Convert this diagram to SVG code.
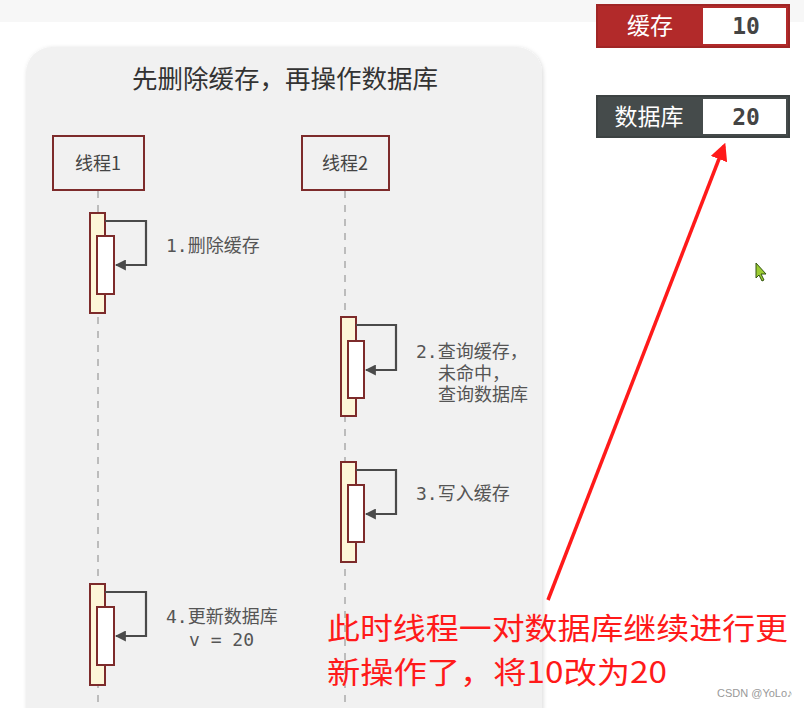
<svg xmlns="http://www.w3.org/2000/svg" width="804" height="708" viewBox="0 0 804 708">
<defs>
<style>
.cjk{font-family:"Noto Sans CJK SC","Noto Sans",sans-serif}
.lbl{font-family:"DejaVu Sans Mono","Noto Sans CJK SC",monospace;font-size:18px;fill:#555}
.actor rect{fill:#f1f1f1;stroke:#7d2b2b;stroke-width:2}
.actor text{font-family:"Noto Sans CJK SC",sans-serif;font-size:18px;fill:#444;text-anchor:middle}
.life{stroke:#aaa;stroke-width:1.5;stroke-dasharray:7 7;fill:none}
.outer{fill:#fdf6d8;stroke:#7d2b2b;stroke-width:2}
.inner{fill:#ffffff;stroke:#7d2b2b;stroke-width:2}
.msg{fill:none;stroke:#4a4a4a;stroke-width:2.2;marker-end:url(#ah)}
.note{font-family:"Noto Sans CJK SC","Noto Sans",sans-serif;font-size:30px;fill:#ff1a1a}
</style>
<marker id="ah" viewBox="0 0 10 10" refX="9" refY="5" markerWidth="5" markerHeight="5" orient="auto" markerUnits="strokeWidth">
<path d="M0,0 L10,5 L0,10 z" fill="#4a4a4a"/>
</marker>
<marker id="rah" viewBox="0 0 10 10" refX="8" refY="5" markerWidth="5" markerHeight="5" orient="auto" markerUnits="strokeWidth">
<path d="M0,0 L10,5 L0,10 z" fill="#ff1a1a"/>
</marker>
<filter id="sh" x="-5%" y="-5%" width="110%" height="110%">
<feDropShadow dx="1" dy="1" stdDeviation="2" flood-color="#000" flood-opacity="0.15"/>
</filter>
</defs>
<rect x="0" y="0" width="804" height="708" fill="#ffffff"/>
<rect x="0" y="0" width="804" height="22" fill="#f7f7f7"/>
<rect id="panel" x="26" y="47" width="516" height="700" rx="26" fill="#f1f1f1" filter="url(#sh)"/>
<text x="285" y="88" class="cjk" font-size="25.5" fill="#333" text-anchor="middle">先删除缓存，再操作数据库</text>

<g id="cache">
<rect x="597" y="5" width="192" height="42" fill="#b22a2a" stroke="#a02525" stroke-width="2"/>
<rect x="703" y="8" width="83" height="36" fill="#ffffff"/>
<text x="650" y="34" class="cjk" font-size="23" fill="#fff" text-anchor="middle">缓存</text>
<text x="746" y="34" font-family="DejaVu Sans Mono,monospace" font-weight="bold" font-size="23" fill="#444" text-anchor="middle">10</text>
</g>
<g id="db">
<rect x="597" y="96" width="192" height="41" fill="#454b4b" stroke="#3c4242" stroke-width="2"/>
<rect x="703" y="99" width="83" height="35" fill="#ffffff"/>
<text x="649" y="125" class="cjk" font-size="23" fill="#fff" text-anchor="middle">数据库</text>
<text x="746" y="125" font-family="DejaVu Sans Mono,monospace" font-weight="bold" font-size="23" fill="#444" text-anchor="middle">20</text>
</g>

<g id="lifelines">
<line class="life" x1="98" y1="191" x2="98" y2="708"/>
<line class="life" x1="345" y1="191" x2="345" y2="708"/>
</g>

<g id="thread1" class="actor">
<rect x="53" y="136" width="91" height="54"/>
<text x="98" y="170">线程1</text>
</g>
<g id="thread2" class="actor">
<rect x="302" y="136" width="87" height="54"/>
<text x="345" y="170">线程2</text>
</g>

<g id="act1">
<rect class="outer" x="90" y="213" width="15" height="100"/>
<rect class="inner" x="97" y="236" width="17" height="58"/>
</g>
<g id="act2">
<rect class="outer" x="341" y="317" width="15" height="99"/>
<rect class="inner" x="348" y="341" width="16" height="57"/>
</g>
<g id="act3">
<rect class="outer" x="341" y="462" width="15" height="100"/>
<rect class="inner" x="348" y="485" width="16" height="57"/>
</g>
<g id="act4">
<rect class="outer" x="90" y="584" width="15" height="101"/>
<rect class="inner" x="97" y="607" width="17" height="58"/>
</g>

<g id="connectors">
<polyline class="msg" points="105,221 146,221 146,265 116,265"/>
<polyline class="msg" points="356,325 396,325 396,370 366,370"/>
<polyline class="msg" points="356,470 396,470 396,514 366,514"/>
<polyline class="msg" points="105,592 146,592 146,636 116,636"/>
<line x1="548" y1="600" x2="724" y2="146" stroke="#ff1a1a" stroke-width="3.5" marker-end="url(#rah)"/>
</g>

<g id="labels">
<text class="lbl" x="166" y="252">1.删除缓存</text>
<text class="lbl" x="416" y="358">2.查询缓存，</text>
<text class="lbl" x="438" y="380">未命中，</text>
<text class="lbl" x="438" y="401">查询数据库</text>
<text class="lbl" x="416" y="500">3.写入缓存</text>
<text class="lbl" x="166" y="623">4.更新数据库</text>
<text class="lbl" x="189" y="646">v = 20</text>
</g>

<g id="note">
<text class="note" x="327" y="639" textLength="461" lengthAdjust="spacingAndGlyphs">此时线程一对数据库继续进行更</text>
<text class="note" x="327" y="683" textLength="340" lengthAdjust="spacingAndGlyphs">新操作了，将10改为20</text>
</g>

<polygon id="cursor" points="756,263 756,278 759,275 762,281 764,280 761,274 766,274" fill="#9ccc33" stroke="#335511" stroke-width="1"/>
<text x="717" y="697" font-family="Liberation Sans,sans-serif" font-size="11" fill="#999">CSDN @YoLo♪</text>
</svg>
